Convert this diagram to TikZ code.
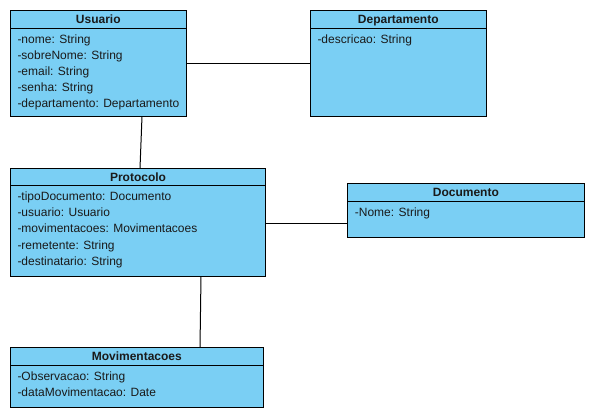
\documentclass[tikz,border=0pt]{standalone}
\usepackage{fontspec}
\setmainfont{Liberation Sans}
\usetikzlibrary{calc}
\definecolor{boxblue}{RGB}{122,207,244}
\definecolor{txt}{RGB}{26,26,26}
\begin{document}
\begin{tikzpicture}[x=1pt,y=-1pt,
  umlbox/.style={draw=black, line width=1pt, fill=boxblue, anchor=north west, inner sep=0pt, outer sep=0pt},
  attr/.style={anchor=west, inner sep=0pt, text height=9pt, text depth=0pt, font=\fontsize{12}{14}\selectfont, text=txt},
  ttl/.style={attr, anchor=center, font=\fontsize{12}{14}\selectfont\bfseries},
  sep/.style={line width=1pt, draw=black},
  link/.style={line width=1pt, draw=black}]
\useasboundingbox (0,0) rectangle (595,419);
% Usuario
\node[umlbox, minimum width=176pt, minimum height=106pt] (usu) at (10.3,10.3) {};
\draw[sep] ($(usu.north west)+(0,18)$) -- ($(usu.north east)+(0,18)$);
\node[ttl] (usuT) at ($(usu.north)+(0,8.7)$) {Usuario};
\node[attr] (usu1) at ($(usu.north west)+(7,28.7)$) {-nome: String};
\node[attr] (usu2) at ($(usu.north west)+(7,44.5)$) {-sobreNome: String};
\node[attr] (usu3) at ($(usu.north west)+(7,60.5)$) {-email: String};
\node[attr] (usu4) at ($(usu.north west)+(7,76.5)$) {-senha: String};
\node[attr] (usu5) at ($(usu.north west)+(7,92.5)$) {-departamento: Departamento};
% Departamento
\node[umlbox, minimum width=176pt, minimum height=106pt] (dep) at (310.3,10.3) {};
\draw[sep] ($(dep.north west)+(0,18)$) -- ($(dep.north east)+(0,18)$);
\node[ttl] (depT) at ($(dep.north)+(0,8.7)$) {Departamento};
\node[attr] (dep1) at ($(dep.north west)+(7,28.7)$) {-descricao: String};
% Protocolo
\node[umlbox, minimum width=255.4pt, minimum height=108pt] (prot) at (10.3,168.3) {};
\draw[sep] ($(prot.north west)+(0,17.5)$) -- ($(prot.north east)+(0,17.5)$);
\node[ttl] (protT) at ($(prot.north)+(0,8.4)$) {Protocolo};
\node[attr] (prot1) at ($(prot.north west)+(7,28)$) {-tipoDocumento: Documento};
\node[attr] (prot2) at ($(prot.north west)+(7,44.2)$) {-usuario: Usuario};
\node[attr] (prot3) at ($(prot.north west)+(7,60.2)$) {-movimentacoes: Movimentacoes};
\node[attr] (prot4) at ($(prot.north west)+(7,76.4)$) {-remetente: String};
\node[attr] (prot5) at ($(prot.north west)+(7,92.4)$) {-destinatario: String};
% Documento
\node[umlbox, minimum width=236.3pt, minimum height=54pt] (doc) at (347.7,183.3) {};
\draw[sep] ($(doc.north west)+(0,18.4)$) -- ($(doc.north east)+(0,18.4)$);
\node[ttl] (docT) at ($(doc.north)+(0,9)$) {Documento};
\node[attr] (doc1) at ($(doc.north west)+(7,29)$) {-Nome: String};
% Movimentacoes
\node[umlbox, minimum width=253pt, minimum height=60.7pt] (mov) at (10.3,347.3) {};
\draw[sep] ($(mov.north west)+(0,18.4)$) -- ($(mov.north east)+(0,18.4)$);
\node[ttl] (movT) at ($(mov.north)+(0,8.7)$) {Movimentacoes};
\node[attr] (mov1) at ($(mov.north west)+(7,28.7)$) {-Observacao: String};
\node[attr] (mov2) at ($(mov.north west)+(7,44.7)$) {-dataMovimentacao: Date};
% connectors
\draw[link] (usu.east) -- (dep.west);
\draw[link] ($(usu.south west)+(131.7,0)$) -- ($(prot.north west)+(129.7,0)$);
\draw[link] ($(prot.north east)+(0,55)$) -- ($(doc.north west)+(0,40)$);
\draw[link] ($(prot.south west)+(190.7,0)$) -- ($(mov.north west)+(189.7,0)$);
\end{tikzpicture}
\end{document}
